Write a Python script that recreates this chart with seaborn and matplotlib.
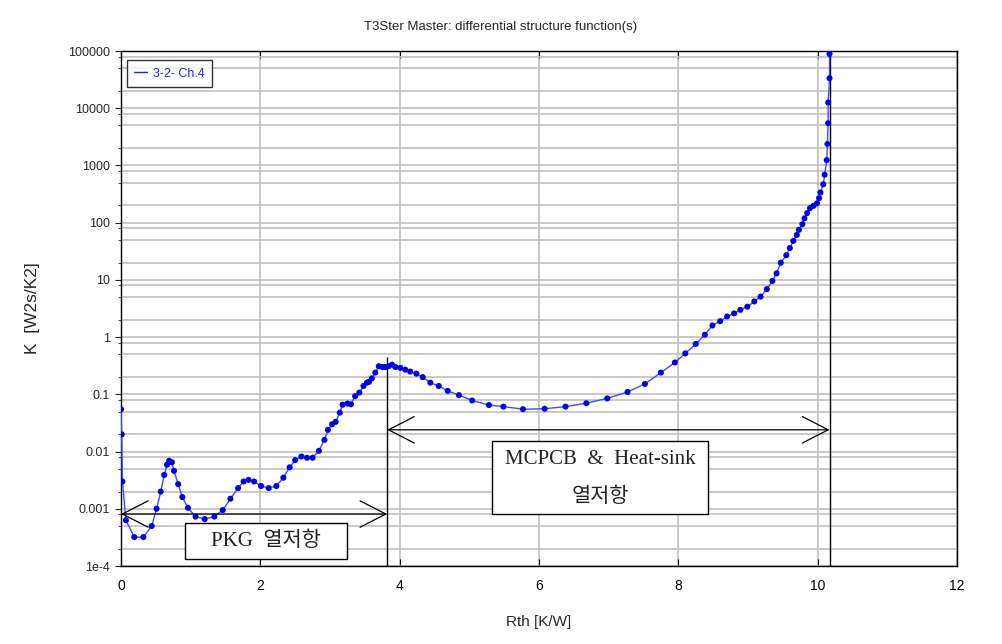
import matplotlib
matplotlib.use("Agg")
import matplotlib.pyplot as plt
import matplotlib.ticker as mticker
from matplotlib.lines import Line2D
from matplotlib.patches import Rectangle
import seaborn as sns
import pandas as pd

# ---------------- data ----------------
rth = [0.00, 0.01, 0.02, 0.07, 0.19, 0.32, 0.44, 0.51, 0.57, 0.62,
       0.66, 0.69, 0.73, 0.76, 0.82, 0.88, 0.96, 1.07, 1.20, 1.34,
       1.46, 1.57, 1.68, 1.76, 1.83, 1.91, 2.01, 2.12, 2.23, 2.33,
       2.42, 2.50, 2.59, 2.67, 2.75, 2.84, 2.92, 2.97, 3.03, 3.08,
       3.14, 3.18, 3.25, 3.30, 3.36, 3.42, 3.48, 3.53, 3.56, 3.60,
       3.65, 3.70, 3.75, 3.79, 3.84, 3.89, 3.94, 4.01, 4.08, 4.15,
       4.24, 4.33, 4.44, 4.56, 4.69, 4.85, 5.04, 5.28, 5.49, 5.77,
       6.08, 6.38, 6.68, 6.98, 7.27, 7.52, 7.75, 7.95, 8.10, 8.25,
       8.38, 8.49, 8.60, 8.70, 8.80, 8.89, 8.99, 9.09, 9.18, 9.27,
       9.35, 9.41, 9.47, 9.55, 9.60, 9.65, 9.70, 9.73, 9.78, 9.81,
       9.85, 9.89, 9.94, 9.99, 10.02, 10.04, 10.08, 10.10, 10.13, 10.14,
       10.15, 10.15, 10.17, 10.17]
k_val = [0.055, 0.02, 0.003, 6.3e-4, 3.2e-4, 3.2e-4, 5.0e-4, 1.0e-3, 2.0e-3, 3.9e-3,
         5.9e-3, 6.9e-3, 6.5e-3, 4.6e-3, 2.7e-3, 1.6e-3, 1.04e-3, 7.3e-4, 6.6e-4, 7.3e-4,
         9.5e-4, 1.5e-3, 2.3e-3, 3.0e-3, 3.2e-3, 3.0e-3, 2.5e-3, 2.3e-3, 2.5e-3, 3.5e-3,
         5.3e-3, 7.1e-3, 8.2e-3, 7.8e-3, 7.8e-3, 0.0103, 0.016, 0.024, 0.030, 0.033,
         0.048, 0.066, 0.069, 0.067, 0.093, 0.107, 0.14, 0.16, 0.165, 0.19,
         0.24, 0.31, 0.30, 0.30, 0.31, 0.33, 0.30, 0.29, 0.27, 0.25,
         0.23, 0.20, 0.16, 0.14, 0.115, 0.097, 0.078, 0.065, 0.061, 0.055,
         0.056, 0.061, 0.070, 0.085, 0.11, 0.152, 0.24, 0.36, 0.52, 0.76,
         1.1, 1.6, 1.9, 2.3, 2.6, 3.0, 3.4, 4.2, 5.1, 6.9,
         9.6, 13, 20, 27, 36, 48, 61, 75, 94, 119,
         147, 180, 197, 218, 268, 336, 469, 690, 1240, 2370,
         5480, 12600, 33500, 89000]

series_label = "3-2- Ch.4"
title = "T3Ster Master: differential structure function(s)"
xlabel = "Rth [K/W]"
ylabel = "K  [W2s/K2]"
x_ticks = [0, 2, 4, 6, 8, 10, 12]
y_ticks = [1e-4, 1e-3, 1e-2, 0.1, 1, 10, 100, 1000, 10000, 100000]
y_tick_labels = ["1e-4", "0.001", "0.01", "0.1", "1", "10", "100", "1000", "10000", "100000"]

pkg_end = 3.82
sink_end = 10.17
pkg_arrow_y = 8.1e-4
sink_arrow_y = 0.024
pkg_text = "PKG  열저항"
sink_text_1 = "MCPCB  &  Heat-sink"
sink_text_2 = "열저항"

df = pd.DataFrame({"Rth": rth, "K": k_val})

# ---------------- plot ----------------
sns.set_style("white")
plt.rcParams["font.family"] = ["Liberation Sans", "DejaVu Sans"]

fig = plt.figure(figsize=(10.02, 6.44), dpi=100)
ax = fig.add_axes([0.1208, 0.1211, 0.8343, 0.7997])

ax.set_yscale("log")
ax.set_xlim(0, 12)
ax.set_ylim(1e-4, 1e5)

# grid
ax.yaxis.set_major_locator(mticker.FixedLocator(y_ticks))
ax.yaxis.set_major_formatter(mticker.FixedFormatter(y_tick_labels))
ax.yaxis.set_minor_locator(mticker.LogLocator(base=10, subs=[2, 5, 8], numticks=30))
ax.yaxis.set_minor_formatter(mticker.NullFormatter())
ax.set_xticks(x_ticks)
ax.grid(True, which="major", axis="both", color="#c0c0c0", lw=1.2)
ax.grid(True, which="minor", axis="y", color="#c0c0c0", lw=1.2)
ax.set_axisbelow(True)

# vertical markers of regions
ax.vlines(pkg_end, 1e-4, 0.45, color="black", lw=1.0, zorder=2)
ax.vlines(sink_end, 1e-4, 1e5, color="black", lw=1.0, zorder=2)

# curve
sns.lineplot(data=df, x="Rth", y="K", estimator=None, sort=False,
             color="#4646ff", lw=1.0, ax=ax, zorder=3, legend=False)
sns.scatterplot(data=df, x="Rth", y="K", color="#0000e6", s=19,
                edgecolor="none", ax=ax, zorder=4, legend=False)

# arrows
arrow_style = "<->,head_length=1.85,head_width=0.95"
ax.annotate("", xy=(0.0, pkg_arrow_y), xytext=(pkg_end, pkg_arrow_y),
            arrowprops=dict(arrowstyle=arrow_style, lw=0.9, color="black",
                            shrinkA=0, shrinkB=0), zorder=5)
ax.annotate("", xy=(pkg_end, sink_arrow_y), xytext=(sink_end, sink_arrow_y),
            arrowprops=dict(arrowstyle=arrow_style, lw=0.9, color="black",
                            shrinkA=0, shrinkB=0), zorder=5)

# text boxes
box_font = ["Liberation Serif", "Noto Sans CJK KR"]
ax.add_patch(Rectangle((0.0766, 0.0136), 0.1934, 0.0699, transform=ax.transAxes,
                       facecolor="white", edgecolor="black", lw=1.0, zorder=6))
ax.text(0.1734, 0.047, pkg_text, transform=ax.transAxes, ha="center", va="center",
        fontsize=15, family=box_font, color="#222222", zorder=7)
ax.add_patch(Rectangle((0.4438, 0.101), 0.2582, 0.1417, transform=ax.transAxes,
                       facecolor="white", edgecolor="black", lw=1.0, zorder=6))
ax.text(0.573, 0.206, sink_text_1, transform=ax.transAxes, ha="center", va="center",
        fontsize=15, family=box_font, color="#222222", zorder=7)
ax.text(0.573, 0.134, sink_text_2, transform=ax.transAxes, ha="center", va="center",
        fontsize=15, family=box_font, color="#222222", zorder=7)

# spines & ticks
for sp in ax.spines.values():
    sp.set_visible(True)
    sp.set_color("black")
    sp.set_linewidth(1.0)
ax.tick_params(axis="x", which="major", direction="in", top=True, bottom=True,
               length=5, width=0.8, labelsize=10, pad=9, colors="black")
ax.tick_params(axis="y", which="major", direction="out", left=True, right=False,
               length=4, width=0.8, labelsize=9, pad=4)
ax.tick_params(axis="y", which="minor", direction="out", left=True, right=False,
               length=2, width=0.6)

fig.suptitle(title, x=0.5, y=1 - 27 / 644, va="center", fontsize=9.5)
ax.set_xlabel(xlabel, fontsize=11, labelpad=16)
ax.set_ylabel(ylabel, fontsize=12.5, labelpad=20)

# legend
handle = Line2D([], [], color="#2020ff", lw=1.0)
leg = ax.legend([handle], [series_label], loc="upper left",
                bbox_to_anchor=(0.007, 0.982), borderaxespad=0,
                handlelength=1.0, handletextpad=0.5, fontsize=9,
                labelcolor="#2a2ad0", frameon=True, fancybox=False,
                borderpad=0.6)
leg.get_frame().set_edgecolor("black")
leg.get_frame().set_linewidth(1.0)

fig.savefig("out.png", dpi=100)
